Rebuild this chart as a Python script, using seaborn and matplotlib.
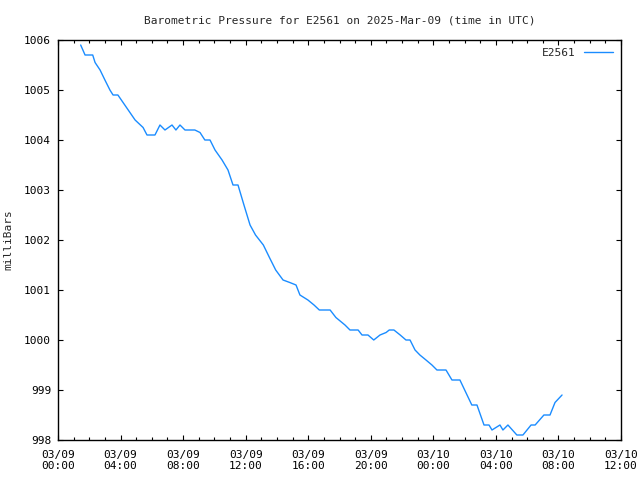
import pandas as pd
import matplotlib
matplotlib.use("Agg")
import matplotlib.pyplot as plt
import matplotlib.dates as mdates
from matplotlib.ticker import MultipleLocator, FormatStrFormatter
import seaborn as sns

# Readings: hours since 2025-03-09 00:00 UTC and pressure (mbar)
hours = [1.45, 1.73, 2.22, 2.37, 2.69, 3.0, 3.32, 3.52, 3.83, 4.27, 4.93,
         5.44, 5.69, 6.2, 6.52, 6.84, 7.29, 7.54, 7.8, 8.12, 8.75, 9.08, 9.39,
         9.72, 10.04, 10.49, 10.87, 11.19, 11.51, 11.89, 12.28, 12.63, 13.13,
         13.52, 13.92, 14.39, 14.82, 15.22, 15.47, 15.98, 16.37, 16.71, 17.4,
         17.77, 18.35, 18.67, 19.19, 19.44, 19.82, 20.19, 20.59, 20.98, 21.18,
         21.48, 21.88, 22.25, 22.51, 22.83, 23.14, 23.53, 23.91, 24.23, 24.81,
         25.19, 25.7, 26.46, 26.79, 27.24, 27.56, 27.75, 28.26, 28.45, 28.77,
         29.34, 29.73, 30.25, 30.51, 31.07, 31.46, 31.78, 32.23]
pressure = [1005.9, 1005.7, 1005.7, 1005.55, 1005.4, 1005.2, 1005.0, 1004.9,
            1004.9, 1004.7, 1004.4, 1004.25, 1004.1, 1004.1, 1004.3, 1004.2,
            1004.3, 1004.2, 1004.3, 1004.2, 1004.2, 1004.15, 1004.0, 1004.0,
            1003.8, 1003.6, 1003.4, 1003.1, 1003.1, 1002.7, 1002.3, 1002.1,
            1001.9, 1001.65, 1001.4, 1001.2, 1001.15, 1001.1, 1000.9, 1000.8,
            1000.7, 1000.6, 1000.6, 1000.45, 1000.3, 1000.2, 1000.2, 1000.1,
            1000.1, 1000.0, 1000.1, 1000.15, 1000.2, 1000.2, 1000.1, 1000.0,
            1000.0, 999.8, 999.7, 999.6, 999.5, 999.4, 999.4, 999.2, 999.2,
            998.7, 998.7, 998.3, 998.3, 998.2, 998.3, 998.2, 998.3, 998.1,
            998.1, 998.3, 998.3, 998.5, 998.5, 998.75, 998.9]

station = "E2561"
base = pd.Timestamp("2025-03-09 00:00")
df = pd.DataFrame({
    "time": base + pd.to_timedelta(hours, unit="h"),
    "mbar": pressure,
    "station": station,
})

sns.set_style("ticks")
plt.rcParams["font.family"] = ["DejaVu Sans Mono"]
plt.rcParams["font.size"] = 8

fig = plt.figure(figsize=(6.4, 4.8), dpi=100)
ax = fig.add_axes([58 / 640, 40 / 480, 563 / 640, 400 / 480])

sns.lineplot(data=df, x="time", y="mbar", hue="station",
             palette={station: "#1a8cff"}, linewidth=1, ax=ax)

ax.set_xlim(base, base + pd.Timedelta(hours=36))
ax.set_ylim(998, 1006)
ax.xaxis.set_major_locator(mdates.HourLocator(byhour=[0, 4, 8, 12, 16, 20]))
ax.xaxis.set_minor_locator(mdates.HourLocator(interval=1))
ax.xaxis.set_major_formatter(mdates.DateFormatter("%m/%d\n%H:%M"))
ax.yaxis.set_major_locator(MultipleLocator(1))
ax.yaxis.set_major_formatter(FormatStrFormatter("%d"))

ax.tick_params(which="both", direction="in", top=True, right=True,
               color="black", width=0.8, labelsize=8, labelcolor="black")
ax.tick_params(which="major", length=3.5)
ax.tick_params(which="minor", length=2.2)
ax.tick_params(axis="x", which="major", pad=7)
ax.tick_params(axis="y", which="major", pad=5)
for s in ax.spines.values():
    s.set_visible(True)
    s.set_color("black")
    s.set_linewidth(1)

ax.set_xlabel("")
ax.set_ylabel("milliBars", fontsize=8, labelpad=8)
ax.set_title("Barometric Pressure for E2561 on 2025-Mar-09 (time in UTC)",
             fontsize=8, pad=12)

ax.legend(loc="upper right", frameon=False, markerfirst=False,
          handlelength=2.6, fontsize=8, borderaxespad=0.3)

fig.savefig("out.png", dpi=100)
